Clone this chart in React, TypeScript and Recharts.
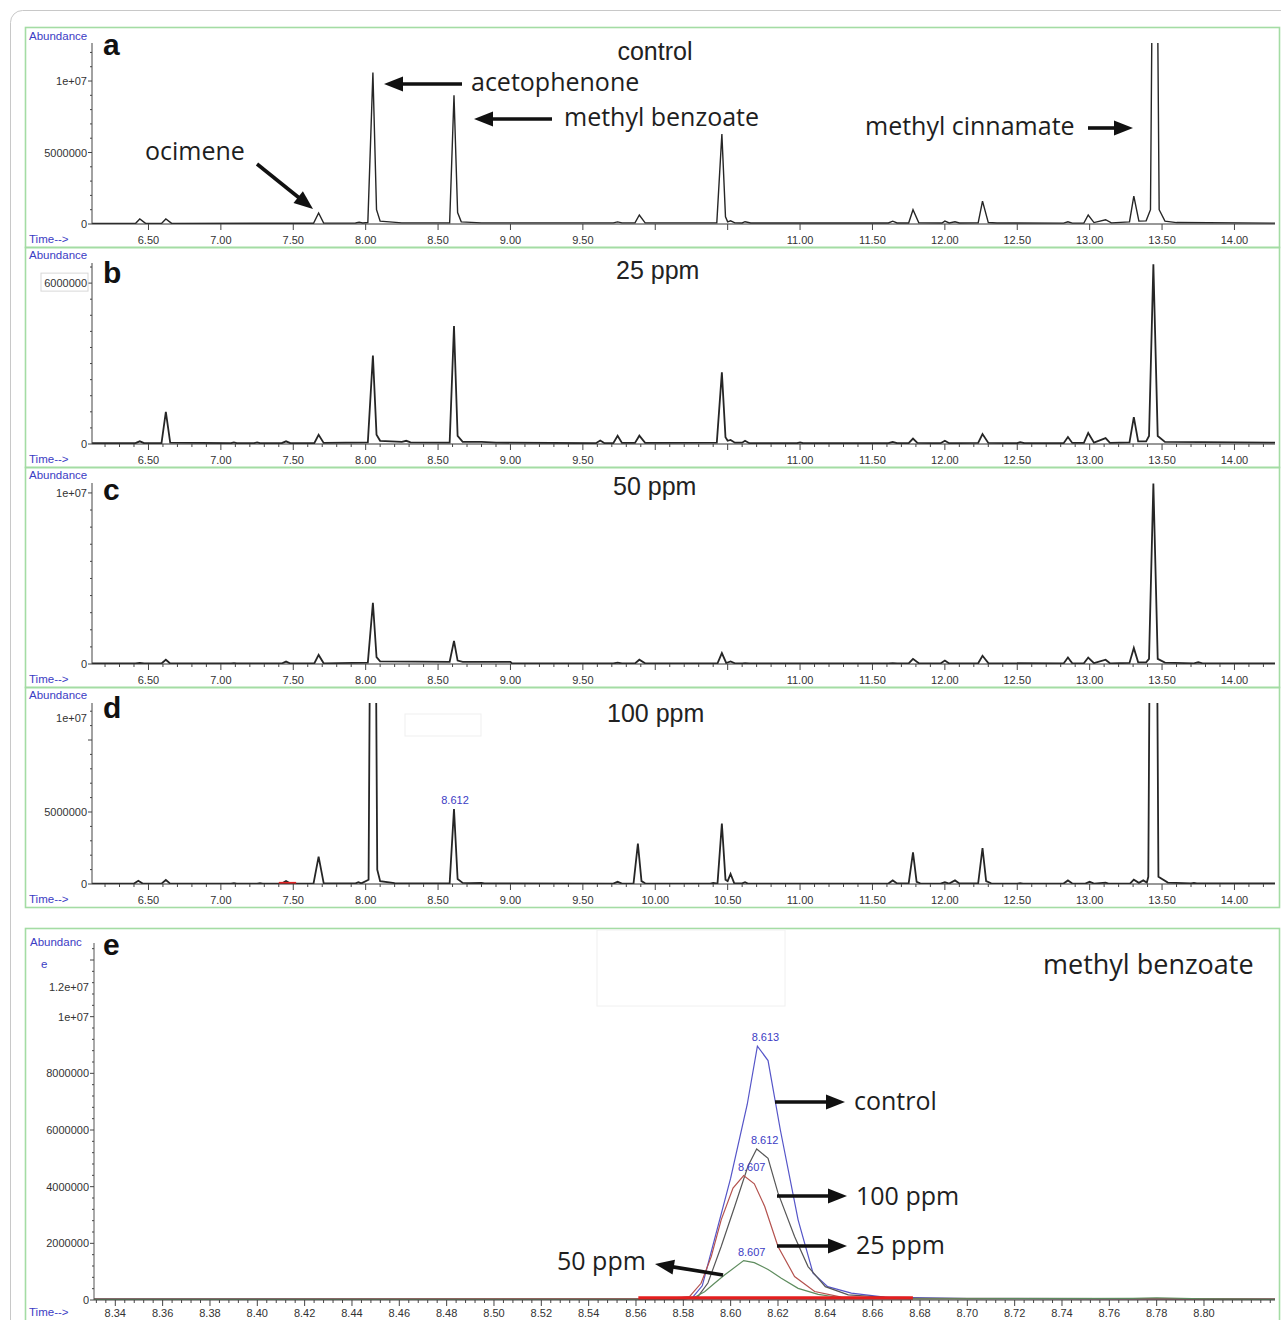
import { LineChart, Line, XAxis, YAxis } from "recharts";

type Pt = [number, number];

// retention time (min), abundance (millions)
const CONTROL_TRACE: Pt[] = [
  [6.11, 0.03], [6.41, 0.03], [6.44, 0.35], [6.48, 0.04],
  [6.59, 0.04], [6.62, 0.35], [6.66, 0.04],
  [7.3, 0.05], [7.64, 0.05], [7.675, 0.77], [7.71, 0.06],
  [7.93, 0.07], [7.955, 0.12], [7.98, 0.07],
  [8.015, 0.1], [8.05, 10.6], [8.075, 1.0], [8.1, 0.2], [8.25, 0.08],
  [8.58, 0.08], [8.61, 9.0], [8.635, 0.8], [8.66, 0.15], [8.8, 0.08],
  [9.71, 0.08], [9.74, 0.15], [9.77, 0.08],
  [9.86, 0.08], [9.89, 0.63], [9.93, 0.08],
  [10.425, 0.08], [10.46, 6.3], [10.485, 0.5], [10.5, 0.15], [10.52, 0.22], [10.55, 0.08],
  [10.6, 0.07], [10.62, 0.16], [10.66, 0.07],
  [11.61, 0.07], [11.64, 0.2], [11.67, 0.07],
  [11.75, 0.07], [11.78, 1.0], [11.82, 0.08],
  [11.98, 0.07], [12.0, 0.2], [12.03, 0.07], [12.07, 0.16], [12.1, 0.07],
  [12.23, 0.08], [12.26, 1.6], [12.3, 0.1], [12.36, 0.07],
  [12.82, 0.06], [12.85, 0.16], [12.88, 0.06],
  [12.96, 0.07], [12.99, 0.63], [13.03, 0.1], [13.11, 0.3], [13.15, 0.08],
  [13.275, 0.15], [13.305, 1.95], [13.34, 0.2], [13.39, 0.22],
  [13.42, 1.0], [13.45, 40], [13.48, 1.0], [13.52, 0.2], [13.6, 0.1], [14.28, 0.06],
];

const PPM25_TRACE: Pt[] = [
  [6.11, 0.03], [6.41, 0.03], [6.44, 0.1], [6.47, 0.03],
  [6.59, 0.03], [6.62, 1.2], [6.65, 0.05],
  [7.07, 0.03], [7.09, 0.06], [7.11, 0.03],
  [7.23, 0.03], [7.25, 0.06], [7.27, 0.03],
  [7.42, 0.03], [7.45, 0.1], [7.48, 0.03],
  [7.645, 0.03], [7.675, 0.34], [7.71, 0.04],
  [8.015, 0.06], [8.05, 3.3], [8.075, 0.35], [8.1, 0.12], [8.25, 0.08], [8.28, 0.12], [8.31, 0.06],
  [8.58, 0.05], [8.61, 4.4], [8.635, 0.3], [8.67, 0.08], [8.8, 0.08], [8.9, 0.05],
  [9.59, 0.03], [9.62, 0.13], [9.65, 0.03],
  [9.71, 0.03], [9.74, 0.31], [9.77, 0.04],
  [9.86, 0.04], [9.89, 0.31], [9.93, 0.04],
  [10.425, 0.05], [10.46, 2.67], [10.485, 0.25], [10.5, 0.12], [10.52, 0.15], [10.55, 0.05],
  [10.6, 0.05], [10.62, 0.12], [10.65, 0.03],
  [10.98, 0.03], [11.0, 0.06], [11.02, 0.03],
  [11.61, 0.03], [11.64, 0.08], [11.67, 0.03],
  [11.75, 0.03], [11.78, 0.2], [11.81, 0.04],
  [11.97, 0.03], [12.0, 0.12], [12.03, 0.03],
  [12.23, 0.04], [12.26, 0.37], [12.3, 0.04],
  [12.5, 0.03], [12.52, 0.07], [12.55, 0.03],
  [12.82, 0.03], [12.85, 0.26], [12.88, 0.04],
  [12.96, 0.04], [12.99, 0.41], [13.03, 0.05], [13.11, 0.22], [13.14, 0.04],
  [13.275, 0.06], [13.305, 1.0], [13.335, 0.1], [13.39, 0.1],
  [13.41, 0.3], [13.44, 6.7], [13.47, 0.3], [13.52, 0.08], [14.28, 0.05],
];

const PPM50_TRACE: Pt[] = [
  [6.11, 0.03], [6.41, 0.03], [6.44, 0.06], [6.47, 0.03],
  [6.59, 0.03], [6.62, 0.25], [6.65, 0.03],
  [7.07, 0.03], [7.09, 0.05], [7.11, 0.03],
  [7.42, 0.03], [7.45, 0.14], [7.48, 0.03],
  [7.645, 0.03], [7.675, 0.53], [7.71, 0.04],
  [8.015, 0.08], [8.05, 3.58], [8.075, 0.4], [8.1, 0.15], [8.58, 0.13],
  [8.61, 1.35], [8.635, 0.2], [8.67, 0.12], [9.0, 0.12], [9.01, 0.03],
  [9.71, 0.03], [9.74, 0.08], [9.77, 0.03],
  [9.86, 0.03], [9.89, 0.25], [9.93, 0.04],
  [10.43, 0.04], [10.46, 0.64], [10.49, 0.06], [10.52, 0.15], [10.55, 0.04],
  [10.6, 0.03], [10.62, 0.05], [10.65, 0.03],
  [11.61, 0.03], [11.64, 0.05], [11.67, 0.03],
  [11.75, 0.03], [11.78, 0.3], [11.82, 0.04],
  [11.97, 0.03], [12.0, 0.2], [12.03, 0.03],
  [12.23, 0.04], [12.26, 0.48], [12.3, 0.05],
  [12.82, 0.03], [12.85, 0.38], [12.88, 0.04],
  [12.96, 0.04], [12.99, 0.38], [13.03, 0.05], [13.11, 0.25], [13.14, 0.04],
  [13.275, 0.06], [13.305, 0.94], [13.335, 0.1], [13.39, 0.1],
  [13.41, 0.3], [13.44, 10.55], [13.47, 0.3], [13.52, 0.08],
  [13.72, 0.04], [13.75, 0.1], [13.78, 0.04], [14.28, 0.04],
];

const PPM100_TRACE: Pt[] = [
  [6.11, 0.03], [6.4, 0.03], [6.43, 0.22], [6.46, 0.03],
  [6.59, 0.03], [6.62, 0.28], [6.65, 0.03],
  [7.07, 0.03], [7.09, 0.06], [7.11, 0.03],
  [7.25, 0.03], [7.27, 0.06], [7.29, 0.03],
  [7.42, 0.03], [7.45, 0.2], [7.48, 0.03],
  [7.64, 0.04], [7.675, 1.9], [7.71, 0.06],
  [7.93, 0.04], [7.95, 0.12], [7.97, 0.04],
  [8.02, 0.3], [8.05, 50], [8.08, 1.0], [8.1, 0.2], [8.2, 0.06],
  [8.58, 0.05], [8.61, 5.2], [8.635, 0.35], [8.67, 0.08], [8.72, 0.06], [8.8, 0.08], [8.82, 0.04],
  [9.71, 0.03], [9.74, 0.15], [9.77, 0.03],
  [9.85, 0.04], [9.88, 2.8], [9.905, 0.2], [9.93, 0.05],
  [10.38, 0.03], [10.4, 0.08], [10.42, 0.04],
  [10.43, 0.06], [10.46, 4.2], [10.485, 0.3], [10.5, 0.2], [10.52, 0.7], [10.545, 0.06],
  [10.6, 0.04], [10.62, 0.12], [10.64, 0.03],
  [11.61, 0.03], [11.64, 0.25], [11.67, 0.04],
  [11.75, 0.04], [11.78, 2.2], [11.805, 0.15], [11.83, 0.04],
  [11.97, 0.03], [12.0, 0.12], [12.03, 0.03], [12.07, 0.25], [12.1, 0.04],
  [12.23, 0.05], [12.26, 2.5], [12.285, 0.2], [12.32, 0.05],
  [12.5, 0.03], [12.52, 0.06], [12.54, 0.03],
  [12.82, 0.03], [12.85, 0.25], [12.88, 0.04],
  [12.97, 0.03], [13.0, 0.15], [13.03, 0.03], [13.11, 0.1], [13.13, 0.03],
  [13.28, 0.04], [13.305, 0.3], [13.34, 0.08], [13.37, 0.25], [13.395, 0.1],
  [13.405, 0.5], [13.44, 60], [13.475, 0.5], [13.54, 0.1],
  [13.7, 0.04], [13.72, 0.08], [13.74, 0.04], [14.28, 0.04],
];
const PPM100_BAR: Pt[] = [[7.4, 0.06], [7.52, 0.06]];
const PPM100_PEAK = { t: 8.61, text: "8.612" };

// methyl benzoate extracted ion trace, panel e
const EIC_CONTROL: Pt[] = [
  [8.331, 0.04], [8.56, 0.04], [8.584, 0.1], [8.588, 0.5], [8.6, 4.3], [8.607, 6.9],
  [8.6113, 8.96], [8.6158, 8.45], [8.621, 6.0], [8.6285, 2.83], [8.6348, 0.95],
  [8.641, 0.47], [8.651, 0.24], [8.665, 0.1], [8.7, 0.05], [8.83, 0.03],
];
const EIC_100: Pt[] = [
  [8.331, 0.03], [8.58, 0.03], [8.586, 0.1], [8.5904, 0.6], [8.596, 1.89], [8.6017, 3.3],
  [8.6073, 4.72], [8.611, 5.33], [8.6158, 5.0], [8.62, 3.78], [8.627, 2.24],
  [8.6327, 1.18], [8.64, 0.47], [8.6497, 0.18], [8.67, 0.07], [8.83, 0.03],
];
const EIC_25: Pt[] = [
  [8.331, 0.03], [8.575, 0.04], [8.5826, 0.12], [8.5875, 0.59], [8.5918, 1.53], [8.596, 2.83],
  [8.601, 3.95], [8.6055, 4.39], [8.61, 4.1], [8.6144, 3.3], [8.62, 1.89],
  [8.627, 0.83], [8.6355, 0.3], [8.6468, 0.1], [8.68, 0.05], [8.83, 0.03],
];
const EIC_50: Pt[] = [
  [8.331, 0.02], [8.58, 0.03], [8.5848, 0.1], [8.589, 0.29], [8.5932, 0.59], [8.5974, 0.88],
  [8.6055, 1.39], [8.61, 1.32], [8.6158, 1.08], [8.6214, 0.77], [8.6285, 0.41],
  [8.637, 0.2], [8.647, 0.07], [8.68, 0.04], [8.77, 0.06], [8.78, 0.08], [8.8, 0.04], [8.83, 0.02],
];
const EIC_BAR: Pt[] = [[8.561, 0.07], [8.677, 0.07]];
const EIC_PEAK_TEXT = { control: "8.613", p100: "8.612", p25: "8.607", p50: "8.607" };

const TIME_TICKS = [6.5, 7, 7.5, 8, 8.5, 9, 9.5, 10, 10.5, 11, 11.5, 12, 12.5, 13, 13.5, 14];
const TIME_LABELS = ["6.50", "7.00", "7.50", "8.00", "8.50", "9.00", "9.50", "10.00", "10.50",
  "11.00", "11.50", "12.00", "12.50", "13.00", "13.50", "14.00"];
const HIDDEN_TIME_LABELS = ["10.00", "10.50"];

const EIC_TICKS = [8.34, 8.36, 8.38, 8.4, 8.42, 8.44, 8.46, 8.48, 8.5, 8.52, 8.54, 8.56,
  8.58, 8.6, 8.62, 8.64, 8.66, 8.68, 8.7, 8.72, 8.74, 8.76, 8.78, 8.8];
const EIC_LABELS = ["8.34", "8.36", "8.38", "8.40", "8.42", "8.44", "8.46", "8.48", "8.50", "8.52",
  "8.54", "8.56", "8.58", "8.60", "8.62", "8.64", "8.66", "8.68", "8.70", "8.72", "8.74", "8.76",
  "8.78", "8.80"];

const SANS = "'Liberation Sans', Arial, sans-serif";
const NOTE = "'Open Sans', sans-serif";
const BLUE = "#3c3cc4";
const GREEN = "#a4dca4";

const rowsOf = (pts: Pt[]) => pts.map(([t, v]) => ({ t, v }));

function steps(from: number, to: number, step: number, digits: number) {
  const out: number[] = [];
  for (let k = 0; from + k * step <= to + 1e-9; k++) out.push(+(from + k * step).toFixed(digits));
  return out;
}

const near = (list: number[], v: number) => list.findIndex((m) => Math.abs(m - v) < 1e-6);

function TimeTick(props: any) {
  const { x, y, payload, majors, labels, hidden, labelDy } = props;
  const i = near(majors, payload.value);
  if (i < 0) return <line x1={x} x2={x} y1={y} y2={y + 3} stroke="#444" />;
  return (
    <g>
      <line x1={x} x2={x} y1={y} y2={y + 6} stroke="#444" />
      {hidden.includes(labels[i]) ? null : (
        <text x={x} y={y + (labelDy ?? 20)} textAnchor="middle" fontSize={11} fontFamily={SANS} fill="#333">
          {labels[i]}
        </text>
      )}
    </g>
  );
}

function AbundanceTick(props: any) {
  const { x, y, payload, majors, labels, shifts, boxed } = props;
  const i = near(majors, payload.value);
  if (i < 0) return <line x1={x - 2} x2={x} y1={y} y2={y} stroke="#444" />;
  return (
    <g>
      <line x1={x - 4} x2={x} y1={y} y2={y} stroke="#444" />
      {boxed === i ? <rect x={x - 51} y={y - 10} width={47} height={18} fill="#fff" stroke="#d8d8d8" /> : null}
      <text x={x - 5} y={y + 4 + (shifts ? shifts[i] : 0)} textAnchor="end" fontSize={11} fontFamily={SANS} fill="#333">
        {labels[i]}
      </text>
    </g>
  );
}

const peakDot = (index: number, text: string, dx: number) => (p: any) =>
  p.index === index ? (
    <text key={`pk${index}`} x={p.cx + dx} y={p.cy - 5} textAnchor="middle" fontSize={11} fontFamily={SANS} fill={BLUE}>
      {text}
    </text>
  ) : (
    <g key={`pk${p.index}`} />
  );

function Chromatogram(props: any) {
  const { top, trace, yMax, yMajors, yLabels, yStep, yShifts, boxed, minor, peak, bar, strokeWidth } = props;
  const rows = rowsOf(trace);
  const xTicks = minor ? steps(6.2, 14.2, 0.1, 2) : TIME_TICKS;
  const yTicks = steps(0, yMax, yStep, 2);
  const peakIndex = peak ? rows.findIndex((r) => r.t === peak.t) : -1;
  return (
    <div style={{ position: "absolute", left: 25, top }}>
      <LineChart width={1255} height={220} data={rows} margin={{ top: 16, right: 5, bottom: 0, left: 0 }}>
        <XAxis
          type="number"
          dataKey="t"
          domain={[6.11, 14.28]}
          allowDataOverflow
          ticks={xTicks}
          interval={0}
          height={23}
          tickSize={0}
          tickMargin={0}
          tickLine={false}
          axisLine={{ stroke: "#333" }}
          tick={(p: any) => (
            <TimeTick {...p} majors={TIME_TICKS} labels={TIME_LABELS} hidden={props.showAll ? [] : HIDDEN_TIME_LABELS} />
          )}
        />
        <YAxis
          type="number"
          domain={[0, yMax]}
          allowDataOverflow
          ticks={yTicks}
          interval={0}
          width={67}
          tickSize={0}
          tickMargin={0}
          tickLine={false}
          axisLine={{ stroke: "#444" }}
          tick={(p: any) => <AbundanceTick {...p} majors={yMajors} labels={yLabels} shifts={yShifts} boxed={boxed} />}
        />
        <Line
          type="linear"
          dataKey="v"
          stroke="#262626"
          strokeWidth={strokeWidth}
          dot={peak ? peakDot(peakIndex, peak.text, 1) : false}
          activeDot={false}
          isAnimationActive={false}
        />
        {bar ? (
          <Line data={rowsOf(bar)} type="linear" dataKey="v" stroke="#e02424" strokeWidth={2.5} dot={false} activeDot={false} isAnimationActive={false} />
        ) : null}
      </LineChart>
    </div>
  );
}

function EicPanel() {
  const series = [
    { pts: EIC_CONTROL, color: "#5555c8", text: EIC_PEAK_TEXT.control },
    { pts: EIC_100, color: "#575757", text: EIC_PEAK_TEXT.p100 },
    { pts: EIC_25, color: "#b4524e", text: EIC_PEAK_TEXT.p25 },
    { pts: EIC_50, color: "#5e8c5e", text: EIC_PEAK_TEXT.p50 },
  ];
  const majors = [0, 2, 4, 6, 8, 10, 12];
  const labels = ["0", "2000000", "4000000", "6000000", "8000000", "1e+07", "1.2e+07"];
  return (
    <div style={{ position: "absolute", left: 25, top: 928 }}>
      <LineChart width={1255} height={392} margin={{ top: 15, right: 5, bottom: 0, left: 0 }}>
        <XAxis
          type="number"
          dataKey="t"
          domain={[8.331, 8.83]}
          allowDataOverflow
          ticks={steps(8.332, 8.828, 0.004, 3)}
          interval={0}
          height={20}
          tickSize={0}
          tickMargin={0}
          tickLine={false}
          axisLine={{ stroke: "#444" }}
          tick={(p: any) => <TimeTick {...p} majors={EIC_TICKS} labels={EIC_LABELS} hidden={[]} labelDy={17} />}
        />
        <YAxis
          type="number"
          domain={[0, 12.6]}
          allowDataOverflow
          ticks={steps(0, 12.4, 0.4, 2)}
          interval={0}
          width={69}
          tickSize={0}
          tickMargin={0}
          tickLine={false}
          axisLine={{ stroke: "#555" }}
          tick={(p: any) => <AbundanceTick {...p} majors={majors} labels={labels} shifts={[0, 0, 0, 0, 0, 0, 27]} />}
        />
        {series.map((s) => {
          const rows = rowsOf(s.pts);
          const top = rows.reduce((best, r, i) => (r.v > rows[best].v ? i : best), 0);
          return (
            <Line
              key={s.color}
              data={rows}
              type="linear"
              dataKey="v"
              stroke={s.color}
              strokeWidth={1.2}
              dot={peakDot(top, s.text, 8)}
              activeDot={false}
              isAnimationActive={false}
            />
          );
        })}
        <Line data={rowsOf(EIC_BAR)} type="linear" dataKey="v" stroke="#e41e1e" strokeWidth={3.5} dot={false} activeDot={false} isAnimationActive={false} />
      </LineChart>
    </div>
  );
}

function Arrow({ from, to }: { from: Pt; to: Pt }) {
  const [x1, y1] = from;
  const [x2, y2] = to;
  const a = Math.atan2(y2 - y1, x2 - x1);
  const len = 19;
  const half = 7.5;
  const bx = x2 - len * Math.cos(a);
  const by = y2 - len * Math.sin(a);
  const px = -Math.sin(a) * half;
  const py = Math.cos(a) * half;
  return (
    <g>
      <line x1={x1} y1={y1} x2={bx + Math.cos(a)} y2={by + Math.sin(a)} stroke="#111" strokeWidth={3.6} />
      <polygon points={`${x2},${y2} ${bx + px},${by + py} ${bx - px},${by - py}`} fill="#111" />
    </g>
  );
}

const noteStyle = { fontFamily: NOTE, fontSize: 25, fill: "#1e1e1e" };
const titleStyle = { fontFamily: SANS, fontSize: 25, fill: "#222" };
const letterStyle = { fontFamily: SANS, fontSize: 30, fontWeight: 700, fill: "#111" };
const axisNameStyle = { fontFamily: SANS, fontSize: 11.5, fill: BLUE };

export default function App() {
  return (
    <div style={{ position: "absolute", left: 0, top: 0, width: 1281, height: 1320, overflow: "hidden", background: "#fff" }}>
      <Chromatogram top={27} trace={CONTROL_TRACE} yMax={12.66} yMajors={[0, 5, 10]} yLabels={["0", "5000000", "1e+07"]}
        yStep={1} strokeWidth={1.4} />
      <Chromatogram top={247} trace={PPM25_TRACE} yMax={6.75} yMajors={[0, 6]} yLabels={["0", "6000000"]}
        yStep={0.6} boxed={1} minor strokeWidth={1.8} />
      <Chromatogram top={467} trace={PPM50_TRACE} yMax={10.58} yMajors={[0, 10]} yLabels={["0", "1e+07"]}
        yStep={1} minor strokeWidth={1.8} />
      <Chromatogram top={687} trace={PPM100_TRACE} yMax={12.57} yMajors={[0, 5, 10]} yLabels={["0", "5000000", "1e+07"]}
        yShifts={[0, 0, -22]} yStep={1} minor showAll peak={PPM100_PEAK} bar={PPM100_BAR} strokeWidth={1.8} />
      <EicPanel />

      <svg width={1281} height={1320} style={{ position: "absolute", left: 0, top: 0, pointerEvents: "none" }}>
        <rect x={10.5} y={10.5} width={1300} height={1340} rx={12} fill="none" stroke="#c8c8c8" />
        {[27, 247, 467, 687].map((y) => (
          <rect key={y} x={25.5} y={y + 0.5} width={1254} height={220} fill="none" stroke={GREEN} strokeWidth={1.6} />
        ))}
        <rect x={25.5} y={928.5} width={1254} height={420} fill="none" stroke={GREEN} strokeWidth={1.6} />
        <rect x={405} y={714} width={76} height={22} fill="none" stroke="#efefef" />
        <rect x={597} y={930} width={188} height={76} fill="none" stroke="#f0f0f0" />

        {[40, 259, 479, 699].map((y) => (
          <text key={`ab${y}`} x={29} y={y} style={axisNameStyle}>Abundance</text>
        ))}
        {[243, 463, 683, 903].map((y) => (
          <text key={`tm${y}`} x={29} y={y} style={axisNameStyle}>{"Time-->"}</text>
        ))}
        <text x={30} y={946} style={axisNameStyle}>Abundanc</text>
        <text x={41} y={968} style={axisNameStyle}>e</text>
        <text x={29} y={1316} style={axisNameStyle}>{"Time-->"}</text>

        <text x={103} y={55} style={letterStyle}>a</text>
        <text x={103} y={283} style={letterStyle}>b</text>
        <text x={103} y={500} style={letterStyle}>c</text>
        <text x={103} y={718} style={letterStyle}>d</text>
        <text x={103} y={955} style={letterStyle}>e</text>

        <text x={655} y={60} textAnchor="middle" style={titleStyle}>control</text>
        <text x={616} y={279} style={titleStyle}>25 ppm</text>
        <text x={613} y={495} style={titleStyle}>50 ppm</text>
        <text x={607} y={722} style={titleStyle}>100 ppm</text>

        <text x={145} y={160} style={noteStyle}>ocimene</text>
        <text x={471} y={91} style={noteStyle}>acetophenone</text>
        <text x={564} y={126} style={noteStyle}>methyl benzoate</text>
        <text x={865} y={135} style={noteStyle}>methyl cinnamate</text>
        <Arrow from={[257, 164]} to={[313, 209]} />
        <Arrow from={[462, 84]} to={[384, 84]} />
        <Arrow from={[552, 119]} to={[474, 119]} />
        <Arrow from={[1088, 128]} to={[1133, 128]} />

        <text x={1043} y={974} style={{ ...noteStyle, fontSize: 27 }}>methyl benzoate</text>
        <text x={854} y={1110} style={noteStyle}>control</text>
        <text x={856} y={1205} style={noteStyle}>100 ppm</text>
        <text x={856} y={1254} style={noteStyle}>25 ppm</text>
        <text x={557} y={1270} style={noteStyle}>50 ppm</text>
        <Arrow from={[775, 1102]} to={[845, 1102]} />
        <Arrow from={[777, 1196]} to={[847, 1196]} />
        <Arrow from={[777, 1246]} to={[847, 1246]} />
        <Arrow from={[723, 1275]} to={[655, 1264]} />
      </svg>
    </div>
  );
}
